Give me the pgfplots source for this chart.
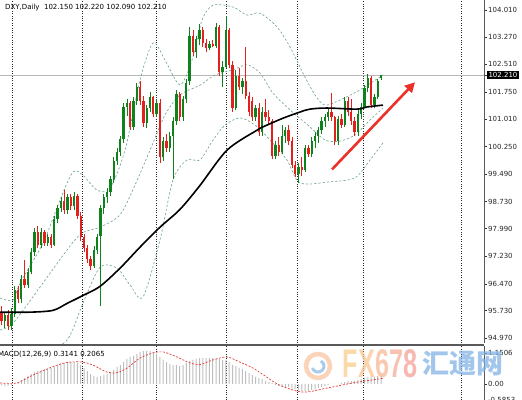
\documentclass[border=0pt]{standalone}
\usepackage{fontspec}
\setmainfont{DejaVu Sans}
\newfontfamily\cjk{Noto Sans CJK SC}
\newfontfamily\wmfont{Liberation Sans}
\usepackage{pgfplots}
\pgfplotsset{compat=1.18}
\usepackage{pgfplotstable}
\usetikzlibrary{arrows.meta}

\definecolor{bull}{RGB}{15,130,30}
\definecolor{bear}{RGB}{228,32,30}
\definecolor{band}{RGB}{112,165,145}
\definecolor{hist}{RGB}{190,190,190}
\definecolor{sig}{RGB}{222,60,55}
\definecolor{arrowred}{RGB}{236,48,42}

\pgfplotstableread{
x o h l c
4.8 95.45 95.70 95.25 95.60
11.4 95.30 95.80 95.20 95.65
14.7 95.65 96.40 95.55 96.30
21.3 96.05 96.70 95.95 96.60
27.9 96.45 96.90 96.35 96.80
31.2 96.80 97.45 96.75 97.35
34.5 97.35 98.00 97.25 97.90
41.1 97.55 98.00 97.45 97.90
47.7 97.60 97.85 97.50 97.75
54.3 97.55 98.35 97.50 98.25
57.6 98.25 98.65 98.15 98.55
60.9 98.55 98.85 98.45 98.75
67.5 98.50 98.95 98.40 98.85
74.1 98.60 99.00 98.50 98.90
93.9 96.95 97.50 96.90 97.40
97.2 97.40 97.85 97.30 97.75
100.5 97.80 98.65 95.85 98.55
103.8 98.55 98.95 98.40 98.85
107.1 98.85 99.10 98.70 99.00
110.4 99.00 99.45 98.90 99.35
113.7 99.35 99.95 99.25 99.85
117.0 99.85 100.20 99.75 100.10
120.3 100.10 100.55 100.00 100.45
123.6 100.45 101.45 100.35 101.35
126.9 101.35 101.55 101.10 101.45
133.5 100.80 101.60 100.70 101.50
136.8 101.50 102.00 101.40 101.90
146.7 100.90 101.40 100.75 101.30
150.0 101.30 101.75 101.20 101.60
156.6 101.15 101.55 101.05 101.45
163.2 99.95 100.50 99.85 100.40
169.8 100.20 100.65 100.10 100.55
173.1 100.55 101.05 99.35 100.95
176.4 100.95 101.80 100.85 101.70
183.0 101.05 101.65 100.95 101.55
186.3 101.55 102.10 101.45 102.00
189.6 102.05 103.55 101.95 103.30
196.2 102.85 103.30 102.70 103.20
199.5 103.20 103.62 103.05 103.45
209.4 102.95 103.15 102.90 103.08
216.0 103.03 103.65 102.95 103.55
222.6 102.30 102.60 101.90 102.45
225.9 102.45 103.85 102.40 103.45
235.8 101.30 102.35 101.25 102.20
242.4 101.90 102.15 101.70 102.05
255.6 101.05 101.40 100.95 101.30
262.2 100.65 101.35 100.55 101.20
275.4 100.00 100.40 99.90 100.30
282.0 100.10 100.85 100.05 100.55
285.3 100.55 100.80 100.35 100.70
298.5 99.50 99.80 99.25 99.70
305.1 99.60 100.30 99.55 100.20
311.7 100.05 100.50 99.95 100.40
315.0 100.40 100.65 100.20 100.55
318.3 100.55 100.80 100.35 100.70
321.6 100.70 101.05 100.60 100.95
324.9 100.95 101.15 100.80 101.05
328.2 101.05 101.30 100.95 101.20
338.1 100.40 101.10 100.30 101.00
344.7 100.85 101.60 100.80 101.50
357.9 100.65 101.25 100.55 101.15
361.2 101.15 101.45 101.00 101.35
364.5 101.35 101.95 101.30 101.85
367.8 101.85 102.25 101.75 102.15
374.4 101.40 101.70 101.30 101.60
377.7 101.60 102.10 101.55 102.05
381.0 102.15 102.22 102.09 102.21
}\bulltab

\pgfplotstableread{
x o h l c
1.5 95.70 95.85 95.35 95.45
8.1 95.60 95.75 95.20 95.30
18.0 96.30 96.40 95.95 96.05
24.6 96.60 97.13 96.35 96.45
37.8 97.90 98.05 97.45 97.55
44.4 97.90 97.95 97.50 97.60
51.0 97.75 97.85 97.45 97.55
64.2 98.75 99.05 98.40 98.50
70.8 98.85 98.95 98.50 98.60
77.4 98.90 98.95 98.25 98.35
80.7 98.35 98.45 97.65 97.75
84.0 97.75 97.85 97.35 97.45
87.3 97.45 97.55 97.05 97.15
90.6 97.15 97.25 96.85 96.95
130.2 101.45 101.50 100.70 100.80
140.1 101.90 102.05 101.40 101.50
143.4 101.50 101.65 100.80 100.90
153.3 101.60 101.65 101.05 101.15
159.9 101.45 101.55 99.80 99.95
166.5 100.40 100.60 100.10 100.20
179.7 101.70 101.75 100.95 101.05
192.9 103.30 103.45 102.75 102.85
202.8 103.45 103.55 103.00 103.10
206.1 103.10 103.20 102.85 102.95
212.7 103.08 103.18 102.98 103.03
219.3 103.55 103.60 102.20 102.30
229.2 103.45 103.50 102.40 102.50
232.5 102.50 102.60 101.20 101.30
239.1 102.20 102.40 101.80 101.90
245.7 102.05 103.00 101.55 101.65
249.0 101.65 101.75 101.10 101.20
252.3 101.50 101.60 100.95 101.05
258.9 101.30 101.45 100.55 100.65
265.5 101.20 101.55 100.95 101.05
268.8 101.05 101.25 100.85 100.95
272.1 100.95 101.00 99.90 100.00
278.7 100.30 100.50 100.00 100.10
288.6 100.70 100.85 100.30 100.40
291.9 100.40 100.50 99.65 99.75
295.2 99.75 99.85 99.40 99.50
301.8 99.70 99.95 99.45 99.60
308.4 100.20 100.30 99.95 100.05
331.5 101.20 101.72 100.95 101.05
334.8 101.05 101.10 100.30 100.40
341.4 101.00 101.15 100.75 100.85
348.0 101.50 101.60 101.10 101.20
351.3 101.20 101.55 100.85 100.95
354.6 100.95 101.05 100.55 100.65
371.1 102.15 102.20 101.30 101.40
}\beartab

\pgfplotstableread{
x m
1.5 -0.05
4.8 -0.08
8.1 -0.06
11.4 -0.03
14.7 0.00
18.0 0.07
21.3 0.15
24.6 0.22
27.9 0.30
31.2 0.37
34.5 0.44
37.8 0.48
41.1 0.52
44.4 0.56
47.7 0.56
51.0 0.59
54.3 0.63
57.6 0.70
60.9 0.74
64.2 0.78
67.5 0.81
70.8 0.81
74.1 0.81
77.4 0.78
80.7 0.70
84.0 0.59
87.3 0.48
90.6 0.37
93.9 0.30
97.2 0.26
100.5 0.30
103.8 0.33
107.1 0.37
110.4 0.44
113.7 0.52
117.0 0.63
120.3 0.70
123.6 0.81
126.9 0.93
130.2 1.00
133.5 1.04
136.8 1.11
140.1 1.19
143.4 1.22
146.7 1.22
150.0 1.22
153.3 1.19
156.6 1.11
159.9 1.00
163.2 0.89
166.5 0.81
169.8 0.74
173.1 0.70
176.4 0.70
179.7 0.67
183.0 0.70
186.3 0.78
189.6 0.85
192.9 0.89
196.2 0.93
199.5 0.96
202.8 0.96
206.1 0.96
209.4 0.96
212.7 0.96
216.0 0.96
219.3 0.93
222.6 0.89
225.9 0.89
229.2 0.81
232.5 0.70
235.8 0.67
239.1 0.59
242.4 0.56
245.7 0.48
249.0 0.41
252.3 0.33
255.6 0.26
258.9 0.22
262.2 0.19
265.5 0.11
268.8 0.07
272.1 0.04
275.4 -0.04
278.7 -0.07
282.0 -0.11
285.3 -0.11
288.6 -0.11
291.9 -0.15
295.2 -0.19
298.5 -0.22
301.8 -0.26
305.1 -0.26
308.4 -0.26
311.7 -0.22
315.0 -0.19
318.3 -0.15
321.6 -0.11
324.9 -0.07
328.2 -0.04
331.5 0.00
334.8 0.00
338.1 0.00
341.4 0.04
344.7 0.07
348.0 0.11
351.3 0.11
354.6 0.11
357.9 0.15
361.2 0.19
364.5 0.22
367.8 0.26
371.1 0.26
374.4 0.26
377.7 0.30
381.0 0.31
}\macdtab

\begin{document}
\begin{tikzpicture}
\useasboundingbox (0,0) rectangle (522pt,-399pt);

% ---------------- main price panel ----------------
\begin{axis}[
  name=main,
  at={(0pt,0pt)}, anchor=north west,
  scale only axis, width=484pt, height=343pt,
  xmin=0, xmax=484, ymin=94.841, ymax=104.284,
  axis line style={draw=none},
  xtick=\empty,
  ytick={94.97,95.73,96.47,97.23,97.99,98.73,99.49,100.25,101.01,101.75,102.51,103.27,104.01},
  yticklabels={94.970,95.730,96.470,97.230,97.990,98.730,99.490,100.250,101.010,101.750,102.510,103.270,104.010},
  ytick pos=right, yticklabel pos=right,
  tick align=outside, major tick length=3pt,
  tick style={black!80, line width=0.5pt},
  yticklabel style={font=\fontsize{7}{8}\selectfont, text=black!85, inner sep=1pt},
  extra y ticks={102.21}, extra y tick labels={102.210},
  extra y tick style={grid=major, major grid style={black!28, line width=0.5pt},
     yticklabel style={fill=black, text=white, inner sep=1.3pt}},
]
\pgfplotsinvokeforeach{12,82,156,226,297,363,461}{
  \draw[black!85, line width=0.9pt, dash pattern=on 1pt off 1.4pt] (axis cs:#1,94.841) -- (axis cs:#1,104.284);
}
% Bollinger-type bands
\addplot[band, line width=0.65pt, dash pattern=on 2.2pt off 2pt, smooth, tension=0.5] coordinates {
(0,96.08)(13,96.02)(20,96.49)(43,97.59)(60,98.78)(73,99.55)(83,99.46)(97,99.05)(110,99.11)
(125,100.15)(140,102.08)(153,103.10)(165,102.63)(180,101.95)(192,102.63)(202,103.73)(213,104.14)
(233,104.09)(247,103.87)(260,103.92)(277,103.54)(290,102.99)(303,102.27)(315,101.67)(325,101.39)
(340,101.53)(360,101.81)(383,102.22)};
\addplot[band, line width=0.65pt, dash pattern=on 2.2pt off 2pt, smooth, tension=0.5] coordinates {
(0,95.20)(13,95.39)(40,96.38)(67,97.40)(82,97.87)(100,98.03)(120,98.37)(135,99.19)(150,100.15)
(165,101.12)(180,101.67)(200,101.94)(215,102.22)(233,102.36)(247,102.50)(260,102.27)(273,101.72)
(290,101.26)(310,100.79)(325,100.43)(340,100.40)(355,100.57)(370,100.98)(383,101.31)};
\addplot[band, line width=0.65pt, dash pattern=on 2.2pt off 2pt, smooth, tension=0.5] coordinates {
(40,94.51)(67,94.92)(83,95.94)(100,96.93)(117,96.90)(130,96.44)(143,96.11)(160,97.68)(173,99.33)
(187,99.88)(200,99.88)(213,100.43)(225,100.84)(240,101.04)(255,100.84)(270,100.43)(287,99.88)
(300,99.25)(330,99.28)(355,99.39)(370,99.88)(383,100.35)};
% candles: wicks (low to high)
\addplot[bull, line width=0.8pt, -, quiver={u=0, v=\thisrow{h}-\thisrow{l}}]
  table[x=x, y=l] {\bulltab};
\addplot[bear, line width=0.8pt, -, quiver={u=0, v=\thisrow{h}-\thisrow{l}}]
  table[x=x, y=l] {\beartab};
% candles: bodies (open to close)
\addplot[bull, line width=2.3pt, -, quiver={u=0, v=\thisrow{c}-\thisrow{o}}]
  table[x=x, y=o] {\bulltab};
\addplot[bear, line width=2.3pt, -, quiver={u=0, v=\thisrow{o}-\thisrow{c}}]
  table[x=x, y=c] {\beartab};
% moving average
\addplot[black, line width=1.6pt, smooth, tension=0.5] coordinates {
(0,95.69)(30,95.69)(53,95.74)(67,95.93)(83,96.15)(100,96.40)(120,96.90)(140,97.48)(160,98.03)
(180,98.52)(200,99.18)(227,100.15)(257,100.70)(267,100.84)(283,101.03)(300,101.20)
(310,101.28)(327,101.31)(357,101.28)(367,101.34)(383,101.39)};
% annotation arrow
\draw[arrowred, line width=2.6pt, -{Triangle[length=10pt,width=10pt]}]
  (axis cs:332,99.62) -- (axis cs:415,102.02);
\end{axis}

\draw[black!65, line width=0.8pt] (main.south east) -- (main.north east);
\draw[black!65, line width=1.8pt] (0pt,-344.6pt) -- (484pt,-344.6pt);
\node[anchor=west, inner sep=0pt, font=\fontsize{7}{8}\selectfont] at (5pt,-8pt)
  {DXY,Daily\ \ 102.150 102.220 102.090 102.210};

% ---------------- MACD panel ----------------
\begin{axis}[
  name=macd,
  at={(0pt,-346pt)}, anchor=north west,
  scale only axis, width=484pt, height=59pt,
  xmin=0, xmax=484, ymin=-0.778, ymax=1.407,
  axis line style={draw=none},
  xtick=\empty,
  ytick={-0.5853,0,1.1506},
  yticklabels={-0.5853,0.00,1.1506},
  ytick pos=right, yticklabel pos=right,
  tick align=outside, major tick length=3pt,
  tick style={black!80, line width=0.5pt},
  yticklabel style={font=\fontsize{7}{8}\selectfont, text=black!85, inner sep=1pt},
]
\pgfplotsinvokeforeach{12,82,156,226,297,363,461}{
  \draw[black!85, line width=0.9pt, dash pattern=on 1pt off 1.4pt] (axis cs:#1,-0.778) -- (axis cs:#1,1.407);
}
\addplot[ybar, bar width=1pt, fill=hist, draw=none] table[x=x, y=m] {\macdtab};
\addplot[sig, line width=0.7pt, dash pattern=on 2pt off 1.5pt, smooth, tension=0.5] coordinates {
(0,0.04)(17,0.04)(33,0.33)(57,0.70)(70,0.81)(83,0.81)(93,0.70)(107,0.44)(117,0.42)(127,0.59)
(140,0.96)(153,1.15)(163,1.19)(177,1.00)(190,0.78)(200,0.72)(213,0.89)(227,1.00)(240,0.81)
(253,0.59)(265,0.30)(280,-0.05)(303,-0.30)(327,-0.15)(353,0.04)(383,0.21)};
\end{axis}
\draw[black!65, line width=0.8pt] (macd.south east) -- (macd.north east);
\node[anchor=west, inner sep=0pt, font=\fontsize{7}{8}\selectfont] at (-2pt,-354pt)
  {MACD(12,26,9) 0.3141 0.2065};

% ---------------- watermark ----------------
\begin{scope}[opacity=0.75]
\draw[line width=4.5pt, color={rgb,255:red,248;green,196;blue,160}] (318pt,-366pt) circle (12pt);
\draw[line width=3pt, color={rgb,255:red,140;green,185;blue,230}] (318pt,-366pt) ++(200:6pt) arc (200:420:6pt);
\node[inner sep=0pt, font=\wmfont\bfseries\fontsize{40}{40}\selectfont] at (380pt,-364pt)
  {\scalebox{0.63}[1]{\textcolor[RGB]{250,206,140}{F}\textcolor[RGB]{249,196,145}{X}\textcolor[RGB]{247,184,148}{6}\textcolor[RGB]{245,172,150}{7}\textcolor[RGB]{243,160,150}{8}}};
\node[inner sep=0pt, text={rgb,255:red,130;green,178;blue,228}, font=\cjk\bfseries\fontsize{27}{27}\selectfont] at (463pt,-364pt) {汇通网};
\end{scope}
\end{tikzpicture}
\end{document}
